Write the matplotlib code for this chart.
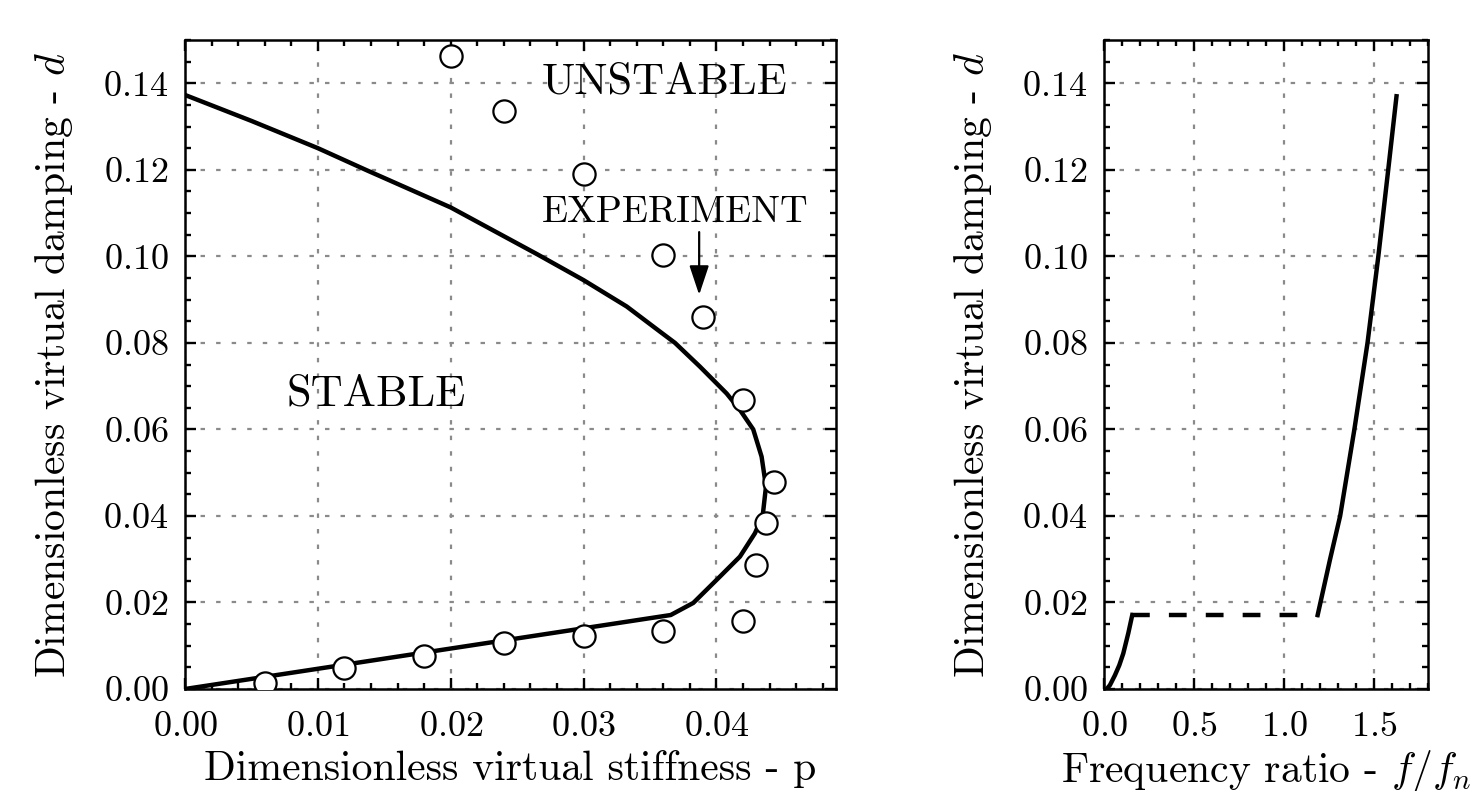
import matplotlib
matplotlib.use('Agg')
import matplotlib.pyplot as plt
from matplotlib.ticker import MultipleLocator

# ---------------- data ----------------
# theoretical stability boundary (left panel)
bound_p = [0.0, 0.005, 0.010, 0.0136, 0.020, 0.0265, 0.030, 0.03325, 0.03575,
           0.03688, 0.03876, 0.04077, 0.04177, 0.04277, 0.0434, 0.04373,
           0.04348, 0.0429, 0.04177, 0.04027, 0.03826, 0.03656, 0.0]
bound_d = [0.1373, 0.1313, 0.125, 0.120, 0.1113, 0.1005, 0.0945, 0.0884, 0.0826,
           0.080, 0.0745, 0.0683, 0.0645, 0.060, 0.0537, 0.0468,
           0.040, 0.036, 0.0306, 0.026, 0.0199, 0.0171, 0.0]

# experiment points (left panel)
exp_p = [0.006, 0.012, 0.018, 0.024, 0.030, 0.036, 0.042, 0.043, 0.0437,
         0.0443, 0.042, 0.039, 0.036, 0.030, 0.024, 0.020]
exp_d = [0.0015, 0.0049, 0.0077, 0.0106, 0.0122, 0.0135, 0.0158, 0.0287,
         0.0383, 0.0479, 0.0669, 0.086, 0.1004, 0.1191, 0.1337, 0.1462]

# right panel: frequency ratio vs damping
low_f = [0.015, 0.033, 0.061, 0.085, 0.107, 0.135, 0.157]
low_d = [0.0, 0.0009, 0.0032, 0.0055, 0.0082, 0.0129, 0.0171]
dash_f = [0.157, 1.187]
dash_d = [0.0171, 0.0171]
up_f = [1.187, 1.256, 1.312, 1.391, 1.464, 1.524, 1.579, 1.625]
up_d = [0.0171, 0.030, 0.040, 0.060, 0.080, 0.100, 0.120, 0.137]

# ---------------- style ----------------
plt.rcParams.update({
    'font.family': 'serif',
    'font.serif': ['cmr10'],
    'mathtext.fontset': 'cm',
    'axes.formatter.use_mathtext': True,
    'axes.unicode_minus': False,
    'xtick.direction': 'in', 'ytick.direction': 'in',
    'xtick.top': True, 'ytick.right': True,
    'xtick.minor.visible': True, 'ytick.minor.visible': True,
    'xtick.major.size': 4.0, 'ytick.major.size': 4.0,
    'xtick.minor.size': 2.2, 'ytick.minor.size': 2.2,
    'xtick.major.width': 0.85, 'ytick.major.width': 0.85,
    'xtick.minor.width': 0.85, 'ytick.minor.width': 0.85,
    'xtick.major.pad': 8.0, 'ytick.major.pad': 6.0,
    'axes.linewidth': 0.9,
    'xtick.labelsize': 13, 'ytick.labelsize': 13,
    'axes.labelsize': 15,
})

W, H = 1470, 791
fig = plt.figure(figsize=(W / 200, H / 200), dpi=200)
ax1 = fig.add_axes([185 / W, (H - 689) / H, 651 / W, 649 / H])
ax2 = fig.add_axes([1104 / W, (H - 689) / H, 324 / W, 649 / H])

grid_kw = dict(color='#8a8a8a', linestyle=(0, (2, 5)), linewidth=0.8)
LW = 1.6

# left panel
ax1.plot(bound_p, bound_d, color='black', lw=LW, zorder=2,
         solid_joinstyle='round')
ax1.plot(exp_p, exp_d, 'o', mfc='white', mec='black', ms=8, mew=0.8, zorder=3)
ax1.set_xlim(0, 0.049)
ax1.set_ylim(0, 0.15)
ax1.xaxis.set_major_locator(MultipleLocator(0.01))
ax1.xaxis.set_minor_locator(MultipleLocator(0.002))
ax1.yaxis.set_major_locator(MultipleLocator(0.02))
ax1.yaxis.set_minor_locator(MultipleLocator(0.005))
ax1.grid(True, which='major', **grid_kw)
ax1.set_xlabel('Dimensionless virtual stiffness - p', labelpad=2.5)
ax1.set_ylabel('Dimensionless virtual damping - $d$', labelpad=10)
ax1.text(0.0361, 0.1377, 'UNSTABLE', fontsize=16, ha='center', va='baseline')
ax1.text(0.01438, 0.0656, 'STABLE', fontsize=16, ha='center', va='baseline')
ax1.text(0.0369, 0.1079, 'EXPERIMENT', fontsize=13.8, ha='center', va='baseline')
ax1.annotate('', xy=(0.0387, 0.0911), xytext=(0.0387, 0.1056),
             arrowprops=dict(arrowstyle='-|>,head_length=0.9,head_width=0.3',
                             color='black', lw=0.8, shrinkA=0, shrinkB=0))

# right panel
ax2.plot(low_f, low_d, color='black', lw=LW, zorder=2, solid_joinstyle='round')
ax2.plot(dash_f, dash_d, color='black', lw=LW, linestyle=(0, (4.0, 4.3)), zorder=2)
ax2.plot(up_f, up_d, color='black', lw=LW, zorder=2, solid_joinstyle='round')
ax2.set_xlim(0, 1.8)
ax2.set_ylim(0, 0.15)
ax2.xaxis.set_major_locator(MultipleLocator(0.5))
ax2.xaxis.set_minor_locator(MultipleLocator(0.1))
ax2.yaxis.set_major_locator(MultipleLocator(0.02))
ax2.yaxis.set_minor_locator(MultipleLocator(0.005))
ax2.grid(True, which='major', **grid_kw)
ax2.set_xlabel('Frequency ratio - $f/f_n$', labelpad=1.8)
ax2.set_ylabel('Dimensionless virtual damping - $d$', labelpad=10)

fig.savefig('out.png', dpi=200)
